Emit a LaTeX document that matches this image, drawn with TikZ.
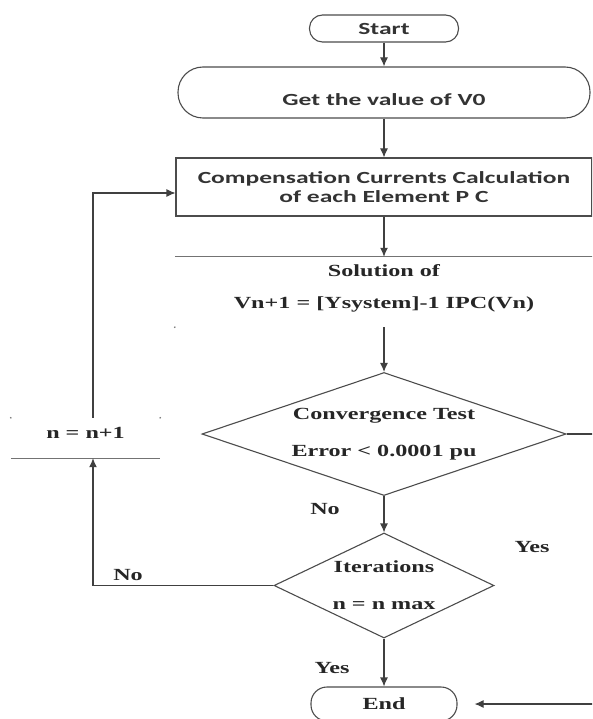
\documentclass[tikz,border=0pt]{standalone}
\usepackage{fontspec}
\newfontfamily\sanstxt{Carlito}[FakeStretch=1.5]
\newfontfamily\seriftxt{Liberation Serif}[FakeStretch=1.42]
\usetikzlibrary{arrows.meta,shapes.geometric}
\begin{document}
\begin{tikzpicture}[x=1pt,y=-1pt,
  ln/.style={draw=black!70, line width=1.1pt},
  arr/.style={draw=black!75, line width=1.1pt, -{Latex[length=9pt,width=8pt]}},
  sans/.style={font=\sanstxt\bfseries\fontsize{17}{20}\selectfont, text=black!80},
  serif/.style={font=\seriftxt\bfseries\fontsize{17}{20}\selectfont, text=black!85},
  corner/.style={fill=black!55}]
\useasboundingbox (0,0) rectangle (592,719);
\clip (0,0) rectangle (592,719);
% nodes
\node[ln, rectangle, rounded corners=13pt, minimum width=149pt, minimum height=27pt, inner sep=0pt, sans] (start) at (384,28.5) {Start};
\node[ln, rectangle, rounded corners=25pt, minimum width=412pt, minimum height=51pt, inner sep=0pt] (get) at (384,92.5) {};
\node[sans, inner sep=0pt] (gettxt) at (384,100) {Get the value of V0};
\node[ln, rectangle, minimum width=416pt, minimum height=58pt, inner sep=0pt, sans, align=center] (comp) at (384,187) {Compensation Currents Calculation\\[-1pt]of each Element P C};
\node[rectangle, minimum width=418pt, minimum height=70pt, inner sep=0pt] (sol) at (384,292) {};
\node[serif, align=center, inner sep=0pt] (soltxt) at (384,288) {Solution of\\[12pt]Vn+1 = [Ysystem]-1 IPC(Vn)};
\node[ln, diamond, shape aspect=2.96, minimum width=364pt, minimum height=123pt, inner sep=0pt, serif, align=center] (conv) at (384,434) {Convergence Test\\[17pt]Error < 0.0001 pu};
\node[ln, diamond, shape aspect=2.1, minimum width=220pt, minimum height=105pt, inner sep=0pt, serif, align=center] (iter) at (384,585.5) {Iterations\\[17pt]n = n max};
\node[rectangle, minimum width=149pt, minimum height=40pt, inner sep=0pt, text depth=10pt, serif] (nbox) at (85.5,438) {n = n+1};
\node[ln, rectangle, rounded corners=16pt, minimum width=146pt, minimum height=34pt, inner sep=0pt, serif] (endn) at (384,704) {End};
\coordinate (loopx) at (93,0);
% partly visible box edges
\draw[ln, draw=black!55] (sol.north west) -- (sol.north east);
\fill[corner] (sol.south west) circle (0.9pt);
\draw[ln, draw=black!55] (nbox.south west) -- (nbox.south east);
\fill[corner] (nbox.north west) circle (0.9pt);
\fill[corner] (nbox.north east) circle (0.9pt);
% labels
\node[serif] (no1) at (325,509) {No};
\node[serif] (yes1) at (532,547) {Yes};
\node[serif] (no2) at (128,575) {No};
\node[serif] (yes2) at (332,668) {Yes};
% connectors
\draw[arr] (start) -- (get);
\draw[arr] (get) -- (comp);
\draw[arr] (comp) -- (sol);
\draw[arr] (sol) -- (conv);
\draw[arr] (conv) -- (iter);
\draw[arr] (iter) -- (endn);
\draw[arr] (iter.west) -| (nbox.south -| loopx);
\draw[arr] (nbox.north -| loopx) |- ([yshift=-6pt]comp.west);
\draw[arr, shorten >=17pt] (conv.east) -- ++(40,0) |- (endn.east);
\end{tikzpicture}
\end{document}
